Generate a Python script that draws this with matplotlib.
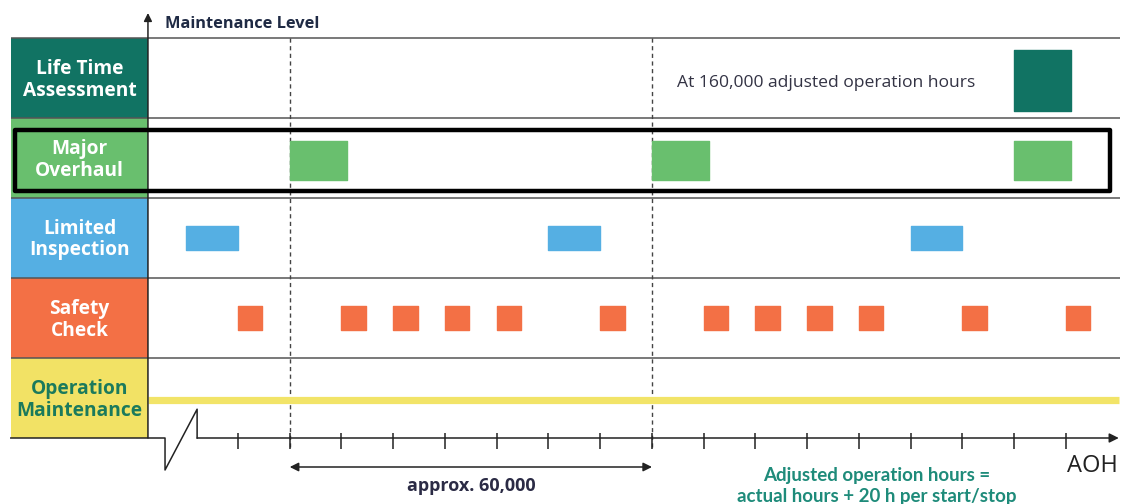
import matplotlib
matplotlib.use("Agg")
import matplotlib.pyplot as plt
from matplotlib.patches import Rectangle

# maintenance levels, top to bottom
levels = ["Life Time\nAssessment", "Major\nOverhaul", "Limited\nInspection",
          "Safety\nCheck", "Operation\nMaintenance"]
level_colors = ["#117363", "#69BF6E", "#55AFE3", "#F37045", "#F2E265"]
level_text_colors = ["white", "white", "white", "white", "#1B7A5C"]

# event start positions, in axis intervals (one tick = one interval)
lifetime_at = [15]
overhaul_at = [1, 8, 15]
inspection_at = [-1, 6, 13]
safety_at = [0, 2, 3, 4, 5, 7, 9, 10, 11, 12, 14, 16]
ticks = list(range(0, 17))

# event lengths, in intervals
lifetime_len = 1.1
overhaul_len = 1.1
inspection_len = 1.0
safety_len = 0.47

fig = plt.figure(figsize=(11.3, 5.04), dpi=100)
ax = fig.add_axes([0, 0, 1, 1])
ax.set_xlim(-4.599, 17.237)
ax.set_ylim(5.825, -0.475)
ax.axis("off")

label_x0, axis_x, line_end = -4.39, -1.74, 17.04
font = ["Open Sans", "DejaVu Sans"]
narrow = ["Lato", "DejaVu Sans"]

# coloured level boxes on the left
for i, (name, c, tc) in enumerate(zip(levels, level_colors, level_text_colors)):
    ax.add_patch(Rectangle((label_x0, i), axis_x - label_x0, 1, color=c, lw=0, zorder=1))
    ax.text((label_x0 + axis_x) / 2, i + 0.52, name, ha="center", va="center",
            color=tc, fontsize=13.8, fontweight="bold", family=font,
            linespacing=1.12, zorder=3)

# row separators
ax.hlines([0, 1, 2, 3, 4], label_x0, line_end, color="#555555", lw=1.1, zorder=2)

# milestone dashed lines
ax.vlines(overhaul_at[:2], 0, 5.11, color="#444444", lw=1.0,
          linestyles=(0, (3, 2.5)), zorder=2)

# events per level
ax.broken_barh([(x, lifetime_len) for x in lifetime_at], (0.15, 0.76),
               color=level_colors[0], zorder=3)
ax.broken_barh([(x, overhaul_len) for x in overhaul_at], (1.29, 0.485),
               color=level_colors[1], zorder=3)
ax.broken_barh([(x, inspection_len) for x in inspection_at], (2.35, 0.3),
               color=level_colors[2], zorder=3)
ax.broken_barh([(x, safety_len) for x in safety_at], (3.35, 0.3),
               color=level_colors[3], zorder=3)
ax.hlines(4.53, axis_x, 17.02, color="#F2E468", lw=5.2, zorder=3)

# highlight frame round the major overhaul row
ax.add_patch(Rectangle((-4.309, 1.15), 21.16, 0.7625, fill=False, ec="black",
                       lw=3.2, joinstyle="round", zorder=5))

# vertical axis
ax.annotate("", xy=(axis_x, -0.3125), xytext=(axis_x, 5),
            arrowprops=dict(arrowstyle="-|>", color="#222222", lw=1.1,
                            mutation_scale=12, shrinkA=0, shrinkB=0), zorder=4)
ax.text(-1.41, -0.175, "Maintenance Level", ha="left", va="center",
        fontsize=11.8, fontweight="bold", color="#1F2A44", family=font)

# horizontal axis with break
ax.plot([label_x0, -1.41, -1.41, -0.79, -0.79], [5, 5, 5.4, 4.64, 5],
        color="#222222", lw=1.1, zorder=4)
ax.annotate("", xy=(17.02, 5), xytext=(-0.79, 5),
            arrowprops=dict(arrowstyle="-|>", color="#222222", lw=1.1,
                            mutation_scale=14, shrinkA=0, shrinkB=0), zorder=4)
ax.vlines(ticks, 4.94, 5.14, color="#222222", lw=1.1, zorder=4)
ax.text(16.52, 5.35, "AOH", ha="center", va="center", fontsize=17,
        color="#222222", family=font)

# overhaul interval
ax.annotate("", xy=(overhaul_at[0], 5.3625), xytext=(overhaul_at[1], 5.3625),
            arrowprops=dict(arrowstyle="<|-|>", color="#222222", lw=1.1,
                            mutation_scale=13, shrinkA=0, shrinkB=0))
ax.text((overhaul_at[0] + overhaul_at[1]) / 2, 5.6, "approx. 60,000",
        ha="center", va="center", fontsize=13, fontweight="bold",
        color="#2B2B45", family=font)

ax.text(8.48, 0.5625, "At 160,000 adjusted operation hours", ha="left",
        va="center", fontsize=12.6, color="#333344", family=font)

ax.text(12.35, 5.47, "Adjusted operation hours =", ha="center", va="center",
        fontsize=13.5, fontweight="bold", color="#1E8B7A", family=narrow)
ax.text(12.35, 5.73, "actual hours + 20 h per start/stop", ha="center",
        va="center", fontsize=13.5, fontweight="bold", color="#1E8B7A",
        family=narrow)

fig.savefig("out.png", dpi=100)
